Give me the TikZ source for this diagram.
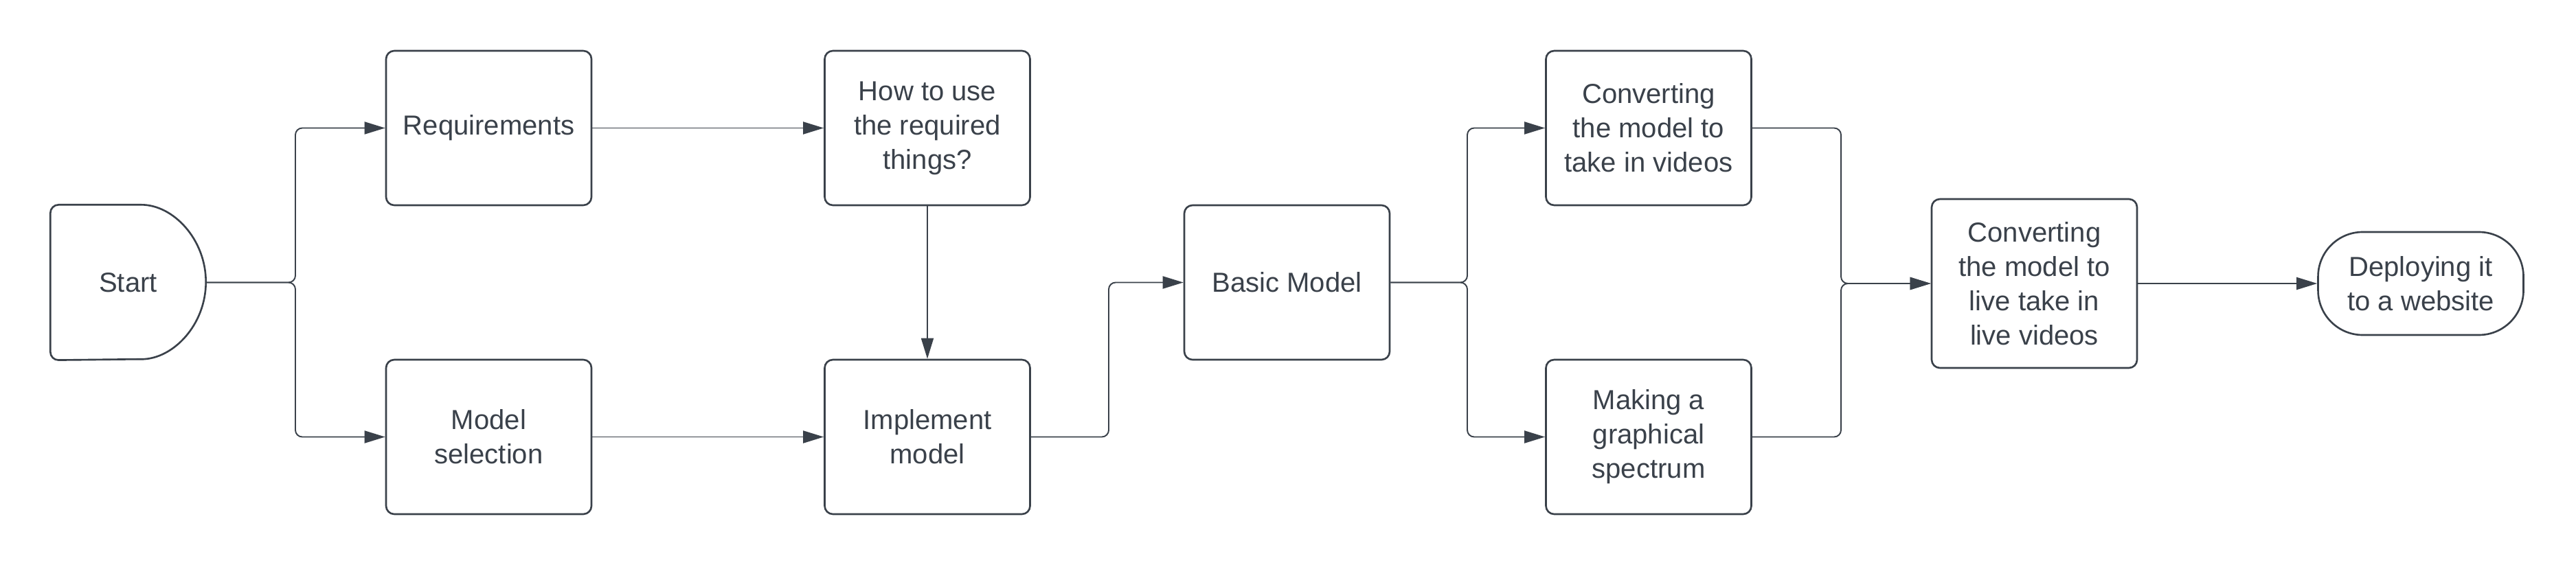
\documentclass[tikz,border=0pt]{standalone}
\usepackage{fontspec}
\setmainfont{Liberation Sans}
\usetikzlibrary{arrows.meta}
\definecolor{ink}{RGB}{58,65,74}
\tikzset{
  box/.style={draw=ink, line width=0.75pt, rounded corners=1.2mm, minimum width=2.99cm, minimum height=2.25cm, align=center, text=ink, font=\fontsize{11.4}{14.2}\selectfont},
  flow/.style={draw=ink, line width=0.55pt, rounded corners=1mm, -{Triangle[length=3mm,width=1.8mm]}},
}

\begin{document}
\begin{tikzpicture}
	\useasboundingbox (0,0) rectangle (37.5,8.25);

	\node (start) at (1.865,4.135) [minimum width=2.25cm, minimum height=2.25cm, text=ink, font=\fontsize{11.4}{14.2}\selectfont] {Start};
	\draw[draw=ink, line width=0.75pt, rounded corners=1.2mm] ([xshift=-1.06cm]start.north east) arc[start angle=90, end angle=-90, x radius=1.06cm, y radius=1.125cm] -- (start.south west) -- (start.north west) -- cycle;

	\node (req) at (7.115,6.385) [box] {Requirements};
	\node (msel) at (7.115,1.885) [box] {Model\\selection};
	\node (how) at (13.5,6.385) [box] {How to use\\the required\\things?};
	\node (impl) at (13.5,1.885) [box] {Implement\\model};
	\node (basic) at (18.735,4.135) [box] {Basic Model};
	\node (conv) at (24.0,6.385) [box] {Converting\\the model to\\take in videos};
	\node (graph) at (24.0,1.885) [box] {Making a\\graphical\\spectrum};
	\node (live) at (29.615,4.12) [box, minimum height=2.46cm] {Converting\\the model to\\live take in\\live videos};
	\node (deploy) at (35.24,4.12) [box, rounded corners=6.5mm, minimum height=1.5cm] {Deploying it\\to a website};

	\coordinate (fork1) at (4.30,4.135);
	\coordinate (fork2) at (16.14,4.135);
	\coordinate (fork3) at (21.36,4.135);
	\coordinate (join) at (26.8,4.12);

	\draw[flow] (start.east) -- (fork1) |- (req.west);
	\draw[flow] (start.east) -- (fork1) |- (msel.west);
	\draw[flow] (req) -- (how);
	\draw[flow] (msel) -- (impl);
	\draw[flow] (how) -- (impl);
	\draw[flow] (impl.east) -| (fork2) -- (basic.west);
	\draw[flow] (basic.east) -- (fork3) |- (conv.west);
	\draw[flow] (basic.east) -- (fork3) |- (graph.west);
	\draw[flow] (conv.east) -| (join) -- (live.west);
	\draw[flow] (graph.east) -| (join) -- (live.west);
	\draw[flow] (live) -- (deploy);

\end{tikzpicture}
\end{document}
